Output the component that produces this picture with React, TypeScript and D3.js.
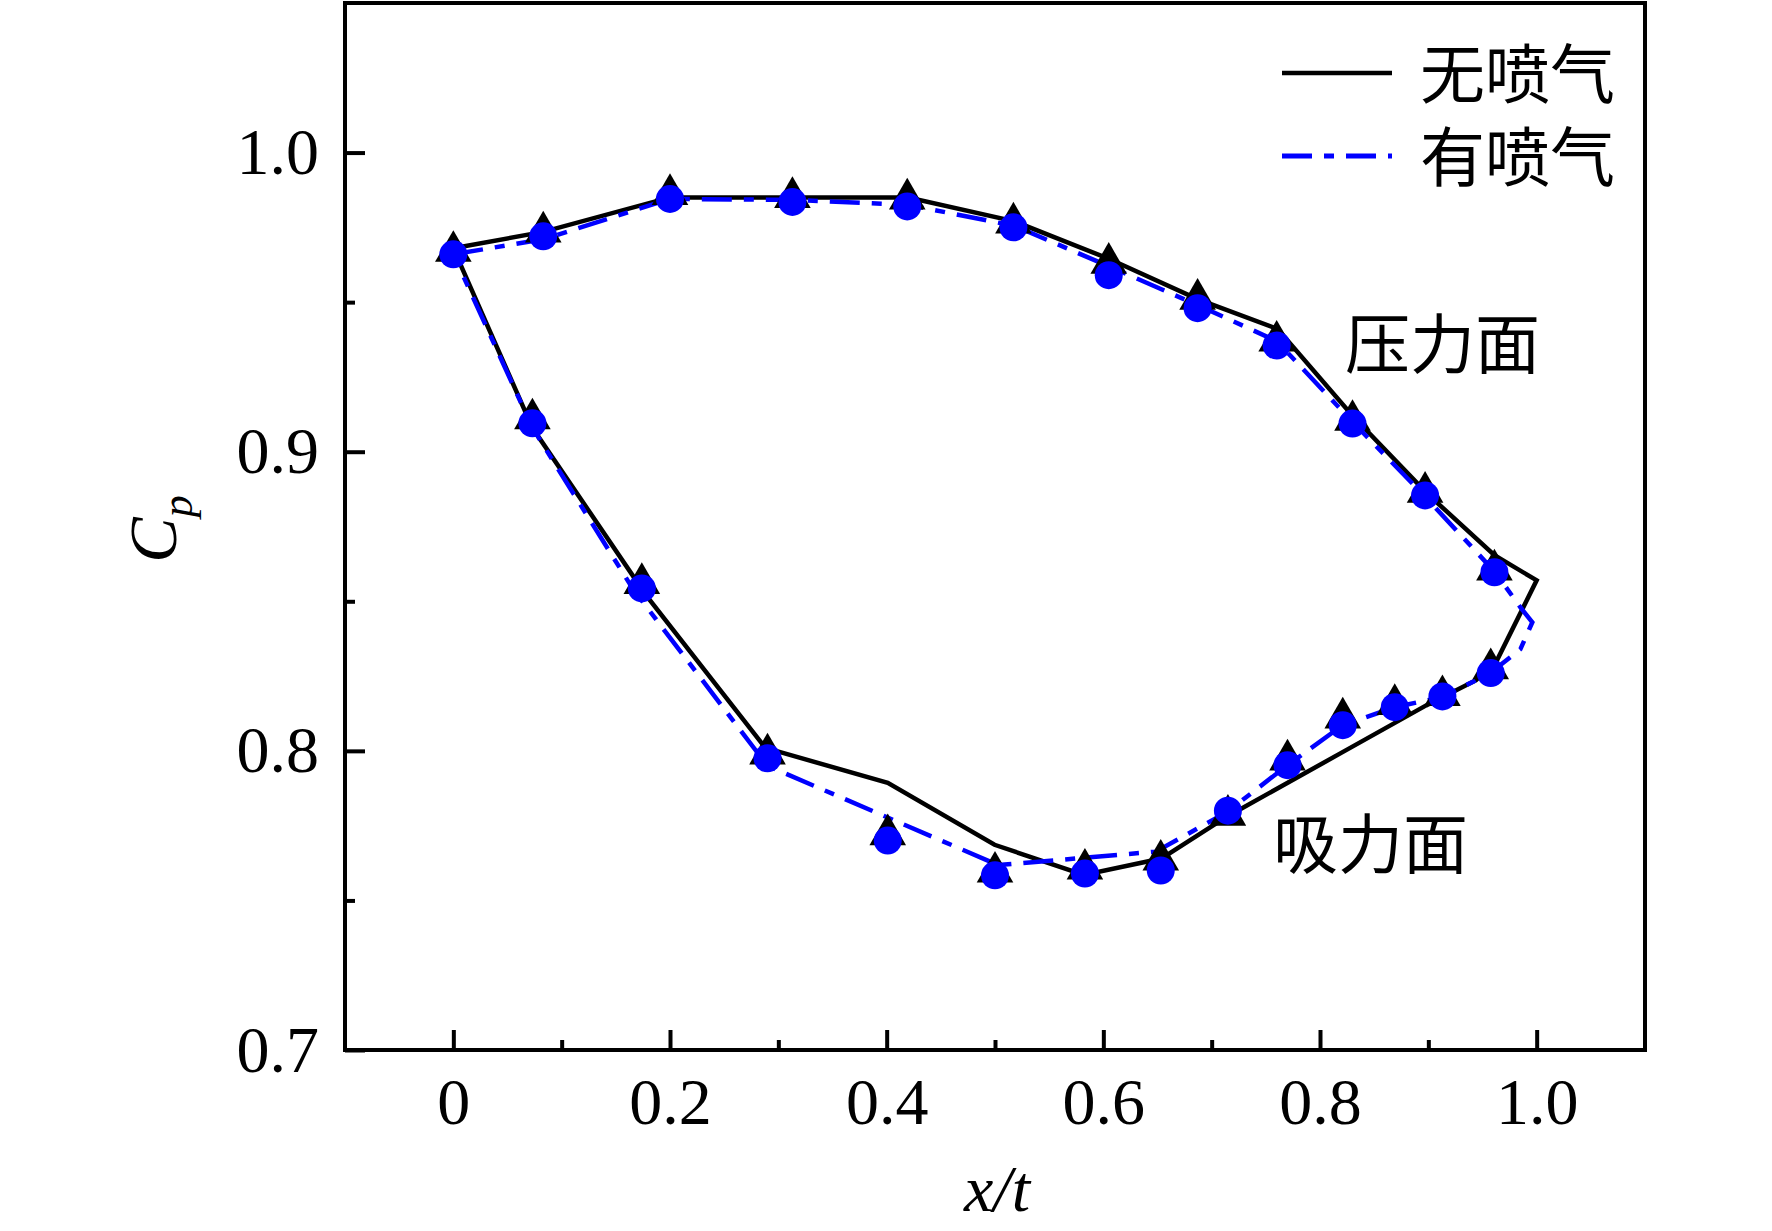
import React, { useEffect, useRef } from "react";
import * as d3 from "d3";

// ---------- data ----------
// 无喷气 (no jet) line: leading edge -> pressure side -> trailing edge -> suction side -> leading edge
const noJetLineX = [0, 0.083, 0.2, 0.313, 0.42, 0.518, 0.605, 0.687, 0.761, 0.83, 0.899, 0.961, 1.0, 0.963, 0.944, 0.898, 0.82, 0.714, 0.6535, 0.582, 0.4996, 0.401, 0.288, 0.178, 0.073, 0];
const noJetLineY = [0.968, 0.9735, 0.985, 0.985, 0.985, 0.977, 0.9645, 0.951, 0.941, 0.912, 0.886, 0.8654, 0.857, 0.83, 0.8236, 0.8152, 0.7994, 0.778, 0.764, 0.7585, 0.7686, 0.7893, 0.801, 0.852, 0.908, 0.968];

// 有喷气 (with jet) line
const jetLineX = [0, 0.083, 0.2, 0.313, 0.42, 0.518, 0.605, 0.687, 0.76, 0.83, 0.897, 0.961, 0.985, 0.996, 0.985, 0.957, 0.913, 0.869, 0.821, 0.77, 0.714, 0.6485, 0.503, 0.29, 0.166, 0.073, 0];
const jetLineY = [0.966, 0.971, 0.9845, 0.9842, 0.9825, 0.9755, 0.962, 0.949, 0.937, 0.91, 0.885, 0.86, 0.848, 0.843, 0.834, 0.826, 0.818, 0.8146, 0.8086, 0.7952, 0.7795, 0.7663, 0.7618, 0.795, 0.854, 0.908, 0.966];

// measured points
const pressureMarkX = [0, 0.083, 0.2, 0.313, 0.419, 0.517, 0.605, 0.687, 0.76, 0.83, 0.897, 0.961];
const suctionMarkX = [0.073, 0.174, 0.29, 0.401, 0.5, 0.583, 0.653, 0.715, 0.77, 0.821, 0.869, 0.913, 0.9576];
const noJetPressureY = [0.967, 0.9735, 0.986, 0.985, 0.9845, 0.9765, 0.963, 0.951, 0.937, 0.9105, 0.8865, 0.8605];
const noJetSuctionY = [0.911, 0.856, 0.799, 0.772, 0.7595, 0.7605, 0.7635, 0.7785, 0.797, 0.811, 0.8155, 0.8185, 0.8275];
const jetPressureY = [0.966, 0.972, 0.9845, 0.9835, 0.982, 0.975, 0.959, 0.948, 0.9355, 0.9094, 0.8854, 0.8597];
const jetSuctionY = [0.9095, 0.8543, 0.7975, 0.77, 0.7584, 0.759, 0.76, 0.78, 0.7952, 0.8086, 0.8146, 0.8182, 0.826];

const xMajorTicks = [0, 0.2, 0.4, 0.6, 0.8, 1.0];
const xMajorLabels = ["0", "0.2", "0.4", "0.6", "0.8", "1.0"];
const xMinorTicks = [0.1, 0.3, 0.5, 0.7, 0.9];
const yMajorTicks = [0.7, 0.8, 0.9, 1.0];
const yMajorLabels = ["0.7", "0.8", "0.9", "1.0"];
const yMinorTicks = [0.75, 0.85, 0.95];

const seriesNames = ["无喷气", "有喷气"];
const surfaceLabels = ["压力面", "吸力面"];

const W = 1772;
const H = 1231;
const serif = "'Liberation Serif', 'Times New Roman', serif";
const cjk = "'Noto Sans CJK SC', sans-serif";

export default function App() {
  const ref = useRef<SVGSVGElement | null>(null);

  useEffect(() => {
    document.body.style.margin = "0";
    const svg = d3.select(ref.current);
    svg.selectAll("*").remove();

    const left = 345, right = 1645, top = 3, bottom = 1050;
    const x = d3.scaleLinear().domain([-0.1, 1.1]).range([left, right]);
    const y = d3.scaleLinear().domain([0.7, 1.05]).range([bottom, top]);

    svg.append("rect").attr("width", W).attr("height", H).attr("fill", "#fff");

    // axes
    const xAxis = d3.axisBottom(x).tickValues(xMajorTicks)
      .tickFormat((_d, i) => xMajorLabels[i]).tickSizeInner(-20).tickSizeOuter(0).tickPadding(27);
    const xMinor = d3.axisBottom(x).tickValues(xMinorTicks)
      .tickFormat(() => "").tickSizeInner(-10).tickSizeOuter(0);
    const yAxis = d3.axisLeft(y).tickValues(yMajorTicks)
      .tickFormat((_d, i) => yMajorLabels[i]).tickSizeInner(-20).tickSizeOuter(0).tickPadding(26);
    const yMinor = d3.axisLeft(y).tickValues(yMinorTicks)
      .tickFormat(() => "").tickSizeInner(-10).tickSizeOuter(0);

    const styleAxis = (g: any) => {
      g.select(".domain").remove();
      g.selectAll("line").attr("stroke", "#000").attr("stroke-width", 4);
      g.selectAll("text").attr("fill", "#000").style("font-family", serif).style("font-size", "66px");
    };
    svg.append("g").attr("transform", `translate(0,${bottom})`).call(xAxis).call(styleAxis);
    svg.append("g").attr("transform", `translate(0,${bottom})`).call(xMinor).call(styleAxis);
    svg.append("g").attr("transform", `translate(${left},0)`).call(yAxis).call(styleAxis);
    svg.append("g").attr("transform", `translate(${left},0)`).call(yMinor).call(styleAxis);

    // frame
    svg.append("rect").attr("x", left).attr("y", top).attr("width", right - left).attr("height", bottom - top)
      .attr("fill", "none").attr("stroke", "#000").attr("stroke-width", 4);

    const line = d3.line<[number, number]>().x((d) => x(d[0])).y((d) => y(d[1]));
    const noJet = noJetLineX.map((v, i) => [v, noJetLineY[i]] as [number, number]);
    const jet = jetLineX.map((v, i) => [v, jetLineY[i]] as [number, number]);

    svg.append("path").attr("d", line(noJet)).attr("fill", "none").attr("stroke", "#000")
      .attr("stroke-width", 4.5).attr("stroke-linejoin", "miter");
    svg.append("path").attr("d", line(jet)).attr("fill", "none").attr("stroke", "#0000ff")
      .attr("stroke-width", 4.5).attr("stroke-dasharray", "30,12,10,12");

    const tri = d3.symbol().type(d3.symbolTriangle).size(580);
    const triPts = [
      ...pressureMarkX.map((v, i) => [v, noJetPressureY[i]]),
      ...suctionMarkX.map((v, i) => [v, noJetSuctionY[i]]),
    ];
    svg.append("g").selectAll("path").data(triPts).join("path")
      .attr("d", tri() as string)
      .attr("transform", (d) => `translate(${x(d[0])},${y(d[1])})`)
      .attr("fill", "#000");

    const circPts = [
      ...pressureMarkX.map((v, i) => [v, jetPressureY[i]]),
      ...suctionMarkX.map((v, i) => [v, jetSuctionY[i]]),
    ];
    svg.append("g").selectAll("circle").data(circPts).join("circle")
      .attr("cx", (d) => x(d[0])).attr("cy", (d) => y(d[1])).attr("r", 14)
      .attr("fill", "#0000ff");

    // legend
    const lg = svg.append("g");
    lg.append("line").attr("x1", 1282).attr("x2", 1392).attr("y1", 73).attr("y2", 73)
      .attr("stroke", "#000").attr("stroke-width", 4.5);
    lg.append("line").attr("x1", 1282).attr("x2", 1392).attr("y1", 156).attr("y2", 156)
      .attr("stroke", "#0000ff").attr("stroke-width", 5).attr("stroke-dasharray", "30,12,10,12");
    lg.selectAll("text").data(seriesNames).join("text")
      .attr("x", 1420).attr("y", (_d, i) => 70 + i * 83)
      .attr("dominant-baseline", "central")
      .style("font-family", cjk).style("font-size", "65px").attr("fill", "#000")
      .text((d) => d);

    // surface labels
    svg.append("text").attr("x", 1345).attr("y", 340).attr("dominant-baseline", "central")
      .style("font-family", cjk).style("font-size", "65px").text(surfaceLabels[0]);
    svg.append("text").attr("x", 1273).attr("y", 840).attr("dominant-baseline", "central")
      .style("font-family", cjk).style("font-size", "65px").text(surfaceLabels[1]);

    // axis titles
    const yt = svg.append("text").attr("transform", "translate(176,529) rotate(-90)")
      .attr("text-anchor", "middle").style("font-family", serif).style("font-style", "italic")
      .style("font-size", "68px");
    yt.append("tspan").text("C");
    yt.append("tspan").attr("dy", 16).style("font-size", "44px").text("p");

    svg.append("text").attr("x", 997).attr("y", 1211).attr("text-anchor", "middle")
      .style("font-family", serif).style("font-style", "italic").style("font-size", "66px")
      .text("x/t");
  }, []);

  return <svg ref={ref} width={W} height={H} style={{ display: "block" }} />;
}
